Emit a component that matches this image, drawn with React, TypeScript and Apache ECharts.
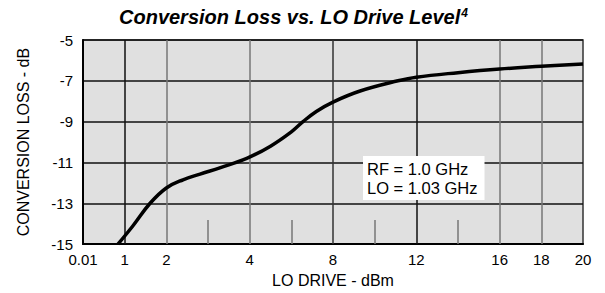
import React, { useEffect, useRef } from "react";
import * as echarts from "echarts";

// x axis is drawn in "axis position" units (0..12); labels give LO drive in dBm
const xTickLabels = ["0.01", "1", "2", "", "4", "", "8", "", "12", "", "16", "18", "20"];
const xGridPositions = [1, 2, 4, 6, 8, 10, 11];
const xGridColors = ["#111", "#777", "#777", "#333", "#111", "#777", "#777"];
const minorTickPositions = [3, 5, 7, 9];

// curve: axis position vs conversion loss (dB)
const loDrivePos = [0.84, 1.2, 1.61, 2.0, 2.4, 2.81, 3.3, 3.93, 4.5, 5.0, 5.28, 5.6, 6.0, 6.65, 7.56, 8.0, 9.0, 10.0, 11.0, 12.0];
const conversionLoss = [-15, -14.1, -13, -12.25, -11.85, -11.57, -11.25, -10.8, -10.2, -9.5, -9.0, -8.5, -8.04, -7.5, -7.0, -6.82, -6.6, -6.42, -6.29, -6.17];

const noteLines = ["RF = 1.0 GHz", "LO = 1.03 GHz"];

const FONT = "'Liberation Sans', Arial, Helvetica, sans-serif";

export default function App() {
  const ref = useRef<HTMLDivElement>(null);
  useEffect(() => {
    if (!ref.current) return;
    const chart = echarts.init(ref.current, null, { renderer: "svg" });
    chart.setOption({
      animation: false,
      backgroundColor: "#fff",
      title: {
        text: "{t|Conversion Loss vs. LO Drive Level}{s|4}",
        left: 114,
        top: 2,
        textStyle: {
          rich: {
            t: { fontFamily: FONT, fontSize: 20, fontWeight: "bold", fontStyle: "italic", color: "#000" },
            s: { fontFamily: FONT, fontSize: 12, fontWeight: "bold", fontStyle: "italic", color: "#000", verticalAlign: "top", padding: [0, 0, 8, 1] },
          },
        },
      },
      grid: {
        left: 83, top: 40, width: 500, height: 207,
        show: true, backgroundColor: "#e0e0e0", borderColor: "#333", borderWidth: 1.5,
      },
      xAxis: {
        type: "value", min: 0, max: 12, interval: 1,
        name: "LO DRIVE - dBm", nameLocation: "middle", nameGap: 26,
        nameTextStyle: { fontFamily: FONT, fontSize: 16, color: "#000" },
        axisLine: { show: true, lineStyle: { color: "#000", width: 2 } },
        axisTick: { show: true, inside: true, length: 24, customValues: minorTickPositions, lineStyle: { color: "#777", width: 1.5 } },
        axisLabel: {
          fontFamily: FONT, fontSize: 15, color: "#000", margin: 8,
          formatter: (v: number) => xTickLabels[Math.round(v)] ?? "",
        },
        splitLine: { show: false },
      },
      yAxis: {
        type: "value", min: -15, max: -5, interval: 2,
        name: "CONVERSION LOSS - dB", nameLocation: "middle", nameGap: 52,
        nameTextStyle: { fontFamily: FONT, fontSize: 16, color: "#000" },
        axisLine: { show: true, lineStyle: { color: "#000", width: 2 } },
        axisTick: { show: false },
        axisLabel: { fontFamily: FONT, fontSize: 15, color: "#000", margin: 10 },
        splitLine: { show: true, lineStyle: { color: "#111", width: 1.5 } },
      },
      graphic: [
        {
          type: "text",
          left: 363,
          top: 156,
          z: 100,
          style: {
            text: noteLines.join("\n"),
            fontFamily: FONT,
            fontSize: 16.5,
            lineHeight: 19,
            fill: "#000",
            backgroundColor: "#fff",
            padding: [3, 7, 3, 4],
          },
        },
      ],
      series: [
        {
          type: "line",
          data: loDrivePos.map((x, i) => [x, conversionLoss[i]]),
          smooth: 0.4,
          showSymbol: false,
          lineStyle: { color: "#000", width: 3.5 },
          z: 5,
          markLine: {
            silent: true,
            symbol: "none",
            label: { show: false },
            z: 1,
            data: xGridPositions.map((x, i) => ({ xAxis: x, lineStyle: { color: xGridColors[i], width: 1.5, type: "solid" } })),
          },
        },
      ],
    });
    return () => chart.dispose();
  }, []);
  return <div ref={ref} style={{ position: "fixed", left: 0, top: 0, width: 605, height: 293 }} />;
}
